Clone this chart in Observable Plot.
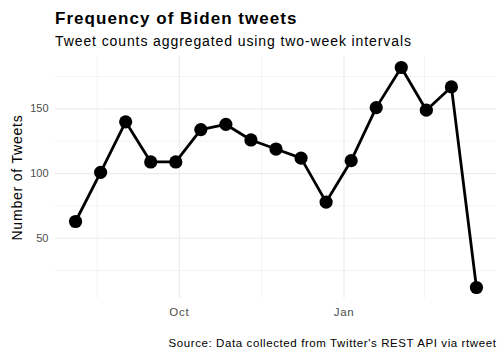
<!DOCTYPE html>
<html>
<head>
<meta charset="utf-8">
<script src="https://cdn.jsdelivr.net/npm/d3@7"></script>
<script src="https://cdn.jsdelivr.net/npm/@observablehq/plot@0.6"></script>
<style>
  html, body { margin: 0; padding: 0; background: #fff; }
  #wrap { position: relative; width: 504px; height: 360px; overflow: hidden;
          font-family: "Liberation Sans", Arial, Helvetica, sans-serif; }
  .title { position: absolute; left: 55px; top: 9.6px; font-size: 17px; line-height: 17px; font-weight: bold; color: #000; white-space: nowrap; letter-spacing: 1.05px; }
  .subtitle { position: absolute; left: 55px; top: 34px; font-size: 14px; line-height: 14px; color: #000; white-space: nowrap; letter-spacing: 0.9px; }
  .caption { position: absolute; right: 7.5px; top: 338px; font-size: 11.5px; line-height: 11.5px; color: #000; white-space: nowrap; letter-spacing: 0.6px; }
  #chart { position: absolute; left: 0; top: 52px; }
  #chart g[aria-label="x-axis tick label"] text { letter-spacing: 0.7px; }
  #chart g[aria-label="text"] text { letter-spacing: 0.8px; }
</style>
</head>
<body>
<div id="wrap">
  <div class="title">Frequency of Biden tweets</div>
  <div class="subtitle">Tweet counts aggregated using two-week intervals</div>
  <div id="chart"></div>
  <div class="caption">Source: Data collected from Twitter's REST API via rtweet</div>
</div>
<script>
const dates = ["2019-08-04","2019-08-18","2019-09-01","2019-09-15","2019-09-29","2019-10-13","2019-10-27","2019-11-10","2019-11-24","2019-12-08","2019-12-22","2020-01-05","2020-01-19","2020-02-02","2020-02-16","2020-03-01","2020-03-15"];
const counts = [63, 101, 140, 109, 109, 134, 138, 126, 119, 112, 78, 110, 151, 182, 149, 167, 12];

const xMajorTicks = ["2019-10-01", "2020-01-01"];
const xMajorLabels = ["Oct", "Jan"];
const xMinorTicks = ["2019-08-16", "2019-11-16", "2020-02-15"];
const yMajorTicks = [50, 100, 150];
const yMinorTicks = [25, 75, 125, 175];
const yTitle = "Number of Tweets";

const data = dates.map((d, i) => ({ date: new Date(d), count: counts[i] }));
const xMaj = xMajorTicks.map(d => new Date(d));
const xMin = xMinorTicks.map(d => new Date(d));
const labelOf = new Map(xMaj.map((d, i) => [+d, xMajorLabels[i]]));

const [x0, x1] = d3.extent(data, d => +d.date);
const xPad = (x1 - x0) * 0.05;
const [y0, y1] = d3.extent(counts);
const yPad = (y1 - y0) * 0.05;

const chart = Plot.plot({
  width: 504,
  height: 275,
  marginLeft: 55,
  marginRight: 8,
  marginTop: 4,
  marginBottom: 29,
  style: { fontFamily: '"Liberation Sans", Arial, Helvetica, sans-serif', fontSize: "11px", color: "#4d4d4d", background: "white" },
  x: { type: "utc", domain: [new Date(x0 - xPad), new Date(x1 + xPad)] },
  y: { domain: [y0 - yPad, y1 + yPad] },
  marks: [
    Plot.ruleY(yMinorTicks, { stroke: "#ebebeb", strokeWidth: 0.6 }),
    Plot.ruleX(xMin, { stroke: "#ebebeb", strokeWidth: 0.6 }),
    Plot.ruleY(yMajorTicks, { stroke: "#ebebeb", strokeWidth: 1.1 }),
    Plot.ruleX(xMaj, { stroke: "#ebebeb", strokeWidth: 1.1 }),
    Plot.axisY({ ticks: yMajorTicks, tickSize: 0, tickPadding: 7, label: null, fontSize: 11, fill: "#4d4d4d" }),
    Plot.axisX({ ticks: xMaj, tickSize: 0, tickPadding: 9, label: null, fontSize: 11.5, fill: "#4d4d4d",
                 tickFormat: d => labelOf.get(+d) }),
    Plot.text([yTitle], { frameAnchor: "left", rotate: -90, dx: -37.5, fontSize: 14, fill: "#000", lineAnchor: "middle", textAnchor: "middle" }),
    Plot.line(data, { x: "date", y: "count", stroke: "#000", strokeWidth: 2.8 }),
    Plot.dot(data, { x: "date", y: "count", r: 6.6, fill: "#000", stroke: "none" })
  ]
});
document.getElementById("chart").appendChild(chart);
</script>
</body>
</html>
